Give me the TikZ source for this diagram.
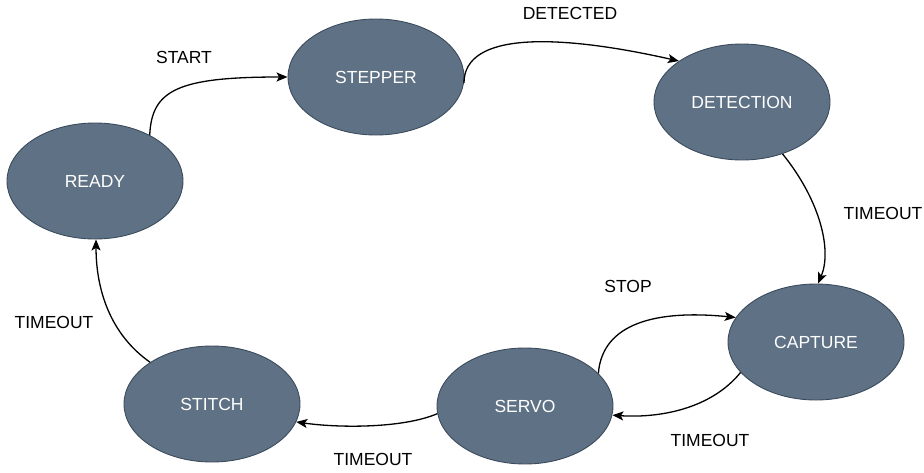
\documentclass[tikz,border=0pt]{standalone}
\usepackage{fontspec}
\setmainfont{Liberation Sans}
\usetikzlibrary{shapes.geometric,arrows.meta}
\definecolor{statefill}{HTML}{5F7185}
\definecolor{stateline}{HTML}{3B4B5C}
\tikzset{
  state/.style={ellipse, draw=stateline, line width=0.9pt, fill=statefill,
    minimum width=176pt, minimum height=116pt, inner sep=0pt,
    text=white, font=\fontsize{17.5}{19}\selectfont},
  lbl/.style={text=black, font=\fontsize{17.5}{19}\selectfont, inner sep=0pt},
  conn/.style={draw=black, line width=1.3pt,
    -{Stealth[length=11pt,width=9pt,inset=2.5pt]}}
}
\begin{document}
\begin{tikzpicture}[x=1pt,y=-1pt]
\useasboundingbox (0,0) rectangle (924,472);
\node[state] (ready) at (95,181) {READY};
\node[state] (stepper) at (376,77) {STEPPER};
\node[state] (detection) at (742,102) {DETECTION};
\node[state] (capture) at (816,342) {CAPTURE};
\node[state] (servo) at (525,406) {SERVO};
\node[state] (stitch) at (212,404) {STITCH};

\node[lbl] (lstart) at (184,57) {START};
\node[lbl] (ldetected) at (570,13) {DETECTED};
\node[lbl] (ltimeout1) at (883,213) {TIMEOUT};
\node[lbl] (lstop) at (628,286) {STOP};
\node[lbl] (ltimeout2) at (710,440) {TIMEOUT};
\node[lbl] (ltimeout3) at (373,459) {TIMEOUT};
\node[lbl] (ltimeout4) at (54,322) {TIMEOUT};

\draw[conn] (ready.40) .. controls +(2,-45) and +(-110,0) .. (stepper.west);
\draw[conn] (stepper.-4) .. controls +(0,-52) and +(-120,-27) .. (detection.147);
\draw[conn] (detection.-52) .. controls +(38,47) and +(14,-33) .. (capture.88);
\draw[conn] (servo.24) .. controls +(4,-50) and +(-80,-8) .. (capture.163);
\draw[conn] (capture.202) .. controls +(-30,37) and +(46,3) .. (servo.-6);
\draw[conn] (servo.185) .. controls +(-35,15) and +(41,6) .. (stitch.-12);
\draw[conn] (stitch.146) .. controls +(-40,-28) and +(0,50) .. (ready.-89);
\end{tikzpicture}
\end{document}
